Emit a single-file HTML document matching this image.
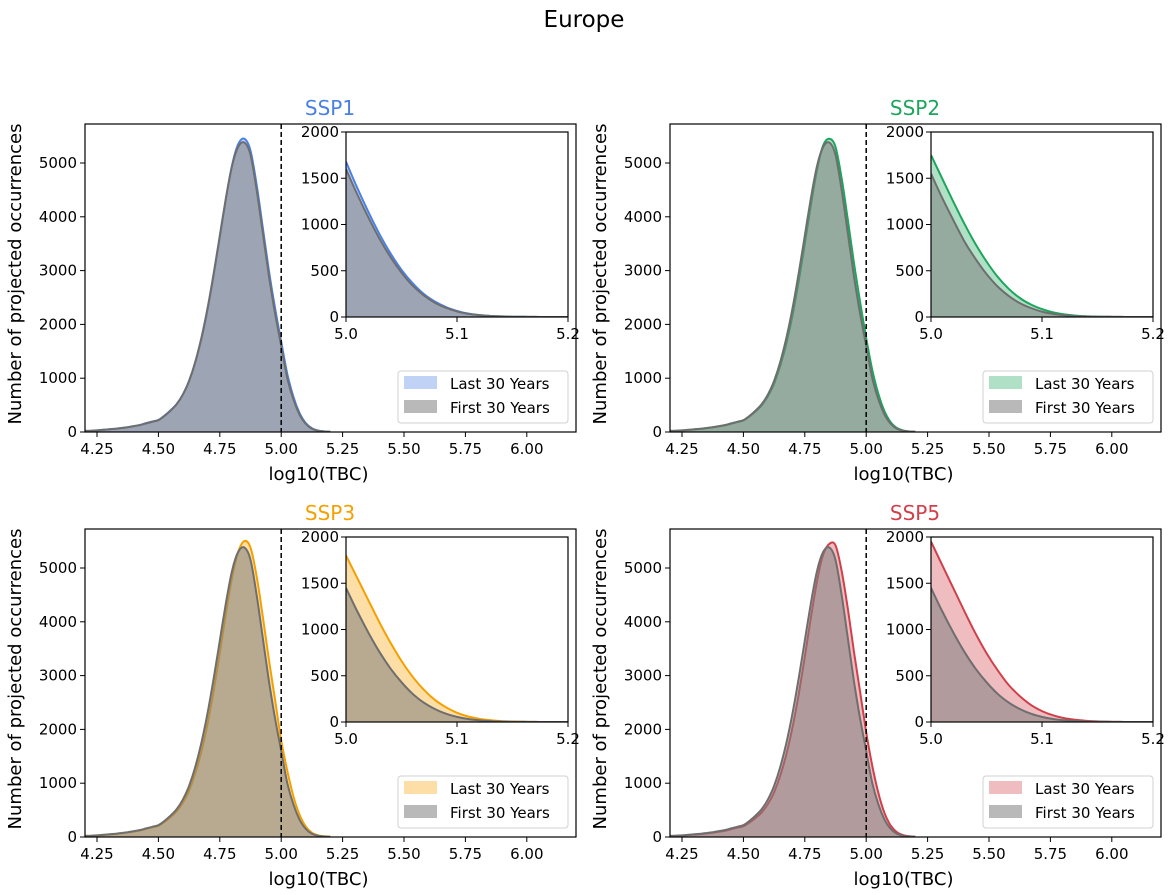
<!DOCTYPE html>
<html><head><meta charset="utf-8"><style>
body{margin:0;background:#fff;}
svg{display:block;font-family:"DejaVu Sans","Liberation Sans",sans-serif;}
</style></head><body>
<svg id="fig" width="1169" height="895" viewBox="0 0 1169 895" xmlns="http://www.w3.org/2000/svg">
<text x="584" y="27" font-size="23" text-anchor="middle" fill="#000">Europe</text>
</svg>
<script>
const mainX0 = 4.2, mainStep = 0.025;
const insetX0 = 5.0, insetStep = 0.01;
const panelNames = ["SSP1","SSP2","SSP3","SSP5"];
const panelColors = ["#4a80e6","#1ca55c","#f5a000","#d0404a"];
const xTicks = [4.25,4.5,4.75,5.0,5.25,5.5,5.75,6.0];
const xTickLabels = ["4.25","4.50","4.75","5.00","5.25","5.50","5.75","6.00"];
const yTicks = [0,1000,2000,3000,4000,5000];
const insetXTicks = [5.0,5.1,5.2];
const insetXTickLabels = ["5.0","5.1","5.2"];
const insetYTicks = [0,500,1000,1500,2000];
const first30Main = [20,25,30,40,50,60,75,90,110,130,160,190,220,300,400,520,700,950,1300,1750,2300,2950,3650,4350,4950,5300,5380,5150,4500,3700,2900,2200,1600,1000,600,320,150,60,25,10,5];
const last30MainSSP1 = [20,25,30,40,50,60,75,90,110,130,165,195,225,305,405,525,700,950,1290,1730,2270,2920,3620,4330,4960,5350,5450,5230,4600,3800,3000,2300,1680,1080,650,350,165,70,28,12,5];
const last30MainSSP2 = [20,24,29,38,48,58,72,87,105,125,155,185,215,290,385,500,670,900,1230,1650,2170,2800,3500,4220,4880,5330,5450,5300,4720,3950,3150,2420,1750,1150,700,380,180,75,30,12,5];
const last30MainSSP3 = [20,24,28,36,46,55,70,85,100,120,150,178,208,280,370,480,640,860,1180,1590,2100,2720,3420,4150,4820,5300,5500,5380,4850,4100,3300,2550,1800,1230,750,410,195,80,32,13,5];
const last30MainSSP5 = [18,22,27,35,44,53,67,82,97,116,145,172,200,270,355,460,615,830,1140,1540,2040,2650,3350,4080,4760,5250,5450,5420,4950,4250,3450,2700,1950,1320,810,440,210,90,35,14,5];
const first30InsetSSP1 = [1600,1330,1080,850,650,480,340,235,155,100,60,35,20,11,6,3,2,1,0,0,0];
const last30InsetSSP1 = [1680,1400,1140,900,690,510,365,250,168,108,66,38,22,12,6,3,2,1,0,0,0];
const first30InsetSSP2 = [1550,1290,1050,820,630,465,330,228,150,97,58,34,19,10,5,3,2,1,0,0,0];
const last30InsetSSP2 = [1750,1500,1250,1010,790,600,435,305,205,135,85,50,28,15,8,4,2,1,0,0,0];
const first30InsetSSP3 = [1450,1200,970,760,580,430,305,210,140,90,55,32,18,10,5,3,2,1,0,0,0];
const last30InsetSSP3 = [1800,1560,1320,1080,860,660,490,350,240,160,100,60,35,20,10,5,3,1,0,0,0];
const first30InsetSSP5 = [1450,1200,970,760,580,430,305,210,140,90,55,32,18,10,5,3,2,1,0,0,0];
const last30InsetSSP5 = [1950,1700,1450,1200,960,745,560,400,280,185,118,72,42,24,12,6,3,1,0,0,0];

const lastMain = [last30MainSSP1,last30MainSSP2,last30MainSSP3,last30MainSSP5];
const firstInset = [first30InsetSSP1,first30InsetSSP2,first30InsetSSP3,first30InsetSSP5];
const lastInset = [last30InsetSSP1,last30InsetSSP2,last30InsetSSP3,last30InsetSSP5];

const NS = "http://www.w3.org/2000/svg";
const fig = document.getElementById('fig');
function mk(tag, attrs, parent){const e=document.createElementNS(NS,tag);for(const k in attrs)e.setAttribute(k,attrs[k]);(parent||fig).appendChild(e);return e;}

function smoothPath(pts){
  let d='M'+pts[0][0].toFixed(1)+','+pts[0][1].toFixed(1);
  for(let i=0;i<pts.length-1;i++){
    const p0=pts[Math.max(0,i-1)],p1=pts[i],p2=pts[i+1],p3=pts[Math.min(pts.length-1,i+2)];
    const c1=[p1[0]+(p2[0]-p0[0])/6,p1[1]+(p2[1]-p0[1])/6];
    const c2=[p2[0]-(p3[0]-p1[0])/6,p2[1]-(p3[1]-p1[1])/6];
    d+=' C'+c1[0].toFixed(1)+','+c1[1].toFixed(1)+' '+c2[0].toFixed(1)+','+c2[1].toFixed(1)+' '+p2[0].toFixed(1)+','+p2[1].toFixed(1);
  }
  return d;
}

function drawSeries(g, vals, x0, step, sx, sy, fill, stroke, opacity, name){
  const grp = mk('g',{},g);
  
  
  const pts = vals.map((v,i)=>[sx(x0+i*step), sy(v)]);
  const line = smoothPath(pts);
  const area = line+' L'+pts[pts.length-1][0].toFixed(1)+','+sy(0).toFixed(1)+' L'+pts[0][0].toFixed(1)+','+sy(0).toFixed(1)+' Z';
  const ar = mk('path',{d:area,fill:fill,'fill-opacity':opacity,stroke:'none'},grp);
  
  
  const ln = mk('path',{d:line,fill:'none',stroke:stroke,'stroke-width':2,'stroke-linejoin':'round'},grp);
  
  
}

panelNames.forEach((nm,p)=>{
  const ox = (p%2)*585, oy = Math.floor(p/2)*405;
  const col = panelColors[p];
  const L=85+ox, R=576+ox, T=124+oy, B=432+oy;
  const g = mk('g',{});
  
  
  const clipId='clip'+p;
  const cp=mk('clipPath',{id:clipId},g); mk('rect',{x:L,y:T,width:R-L,height:B-T},cp);
  const sx = v => 97+ox + (v-4.25)*245.6;
  const sy = v => B - v*0.0538;
  const plot = mk('g',{'clip-path':'url(#'+clipId+')'},g);
  drawSeries(plot, lastMain[p], mainX0, mainStep, sx, sy, col, col, 0.35, 'last-30-years-'+nm.toLowerCase());
  drawSeries(plot, first30Main, mainX0, mainStep, sx, sy, '#808080', '#6e6e6e', 0.55, 'first-30-years-'+nm.toLowerCase());
  const dl = mk('line',{x1:sx(5.0),x2:sx(5.0),y1:T,y2:B,stroke:'#000','stroke-width':1.5,'stroke-dasharray':'5,3'},g);
  
  
  const fr = mk('rect',{x:L,y:T,width:R-L,height:B-T,fill:'none',stroke:'#000','stroke-width':1.2},g);
  
  
  xTicks.forEach((t,i)=>{
    mk('line',{x1:sx(t),x2:sx(t),y1:B,y2:B+5,stroke:'#000'},g);
    const tx = mk('text',{x:sx(t),y:B+22,'font-size':15,'text-anchor':'middle'},g); tx.textContent=xTickLabels[i];
    
    
  });
  yTicks.forEach(t=>{
    mk('line',{x1:L-5,x2:L,y1:sy(t),y2:sy(t),stroke:'#000'},g);
    const tx = mk('text',{x:L-8,y:sy(t)+5,'font-size':15,'text-anchor':'end'},g); tx.textContent=t;
    
    
  });
  const xl = mk('text',{x:(L+R)/2-12,y:B+48,'font-size':18,'text-anchor':'middle'},g); xl.textContent='log10(TBC)';
  
  
  const yl = mk('text',{x:0,y:0,'font-size':18,'text-anchor':'middle',transform:'translate('+(21+ox)+','+((T+B)/2-4)+') rotate(-90)'},g); yl.textContent='Number of projected occurrences';
  
  
  const ti = mk('text',{x:330+ox,y:T-9,'font-size':20,'text-anchor':'middle',fill:col},g); ti.textContent=nm;
  
  

  const iL=346+ox, iR=568+ox, iT=132+oy, iB=317+oy;
  const ig = mk('g',{},g);
  
  
  mk('rect',{x:iL,y:iT,width:iR-iL,height:iB-iT,fill:'#fff'},ig);
  const icp=mk('clipPath',{id:'iclip'+p},ig); mk('rect',{x:iL,y:iT,width:iR-iL,height:iB-iT},icp);
  const isx = v => iL + (v-5.0)/0.2*(iR-iL);
  const isy = v => iB - v/2000*(iB-iT);
  const ip = mk('g',{'clip-path':'url(#iclip'+p+')'},ig);
  drawSeries(ip, lastInset[p], insetX0, insetStep, isx, isy, col, col, 0.35, 'inset-last-30-years');
  drawSeries(ip, firstInset[p], insetX0, insetStep, isx, isy, '#808080', '#6e6e6e', 0.55, 'inset-first-30-years');
  mk('rect',{x:iL,y:iT,width:iR-iL,height:iB-iT,fill:'none',stroke:'#000','stroke-width':1.2},ig);
  insetXTicks.forEach((t,i)=>{
    mk('line',{x1:isx(t),x2:isx(t),y1:iB,y2:iB+5,stroke:'#000'},ig);
    const tx=mk('text',{x:isx(t),y:iB+22,'font-size':15,'text-anchor':'middle'},ig); tx.textContent=insetXTickLabels[i];
    
    
  });
  insetYTicks.forEach(t=>{
    mk('line',{x1:iL-5,x2:iL,y1:isy(t),y2:isy(t),stroke:'#000'},ig);
    const tx=mk('text',{x:iL-7,y:isy(t)+5,'font-size':15,'text-anchor':'end'},ig); tx.textContent=t;
    
    
  });

  const lg = mk('g',{},g);
  
  
  mk('rect',{x:398+ox,y:371+oy,width:170,height:52,rx:3,fill:'#fff',stroke:'#d0d0d0'},lg);
  const e1=mk('rect',{x:404+ox,y:376+oy,width:33,height:13,fill:col,'fill-opacity':0.35},lg);
  
  
  const t1=mk('text',{x:450+ox,y:389+oy,'font-size':15},lg); t1.textContent='Last 30 Years';
  
  
  const e2=mk('rect',{x:404+ox,y:400+oy,width:33,height:13,fill:'#808080','fill-opacity':0.55},lg);
  
  
  const t2=mk('text',{x:450+ox,y:413+oy,'font-size':15},lg); t2.textContent='First 30 Years';
  
  
});
</script>
</body></html>
